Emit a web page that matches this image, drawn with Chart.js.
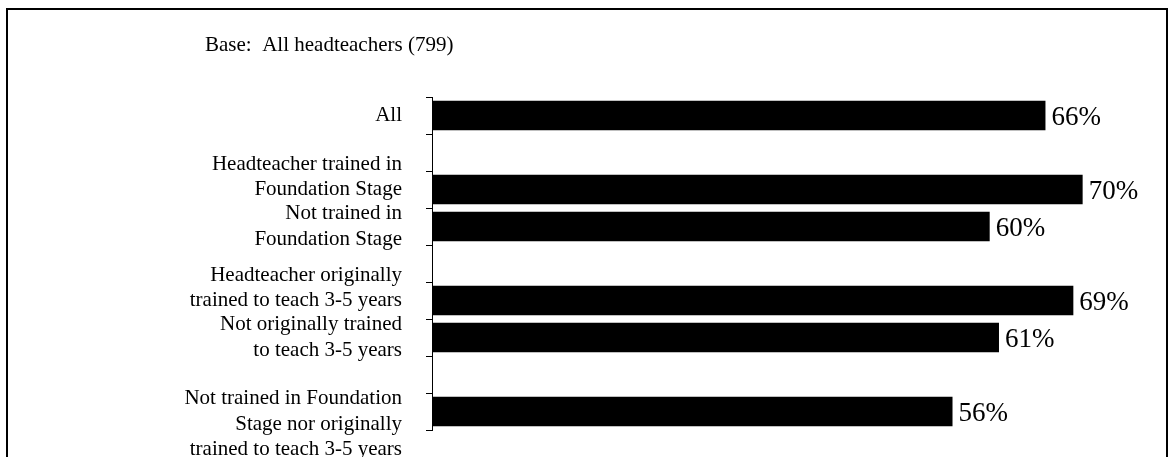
<!DOCTYPE html>
<html>
<head>
<meta charset="utf-8">
<script src="https://cdn.jsdelivr.net/npm/chart.js@4"></script>
<style>
  body { margin: 0; background: #fff; overflow: hidden; }
  #frame { position: absolute; left: 6px; top: 8px; width: 1158px; height: 480px; border: 2px solid #000; }
  #wrap { position: absolute; left: 0; top: 0; width: 1173px; height: 457px; }
</style>
</head>
<body>
<div id="frame"></div>
<div id="wrap"><canvas id="chart" width="1173" height="457"></canvas></div>
<script>
// categories (empty strings are the spacer rows between groups;
// a blank line before/after a label nudges it down/up like the original)
const categories = [
    ['All'],
    [''],
    ['Headteacher trained in', 'Foundation Stage', ''],
    ['Not trained in', 'Foundation Stage'],
    [''],
    ['Headteacher originally', 'trained to teach 3-5 years', ''],
    ['Not originally trained', 'to teach 3-5 years'],
    [''],
    ['', 'Not trained in Foundation', 'Stage nor originally', 'trained to teach 3-5 years']
];
const values = [66, null, 70, 60, null, 69, 61, null, 56];
const titleText = 'Base:  All headteachers (799)';

const serif = "'Liberation Serif', 'Times New Roman', serif";

// draws the title and the value labels at the end of each bar
const labelPlugin = {
    id: 'labelPlugin',
    afterDraw(chart) {
        const ctx = chart.ctx;
        ctx.save();
        ctx.fillStyle = '#000';
        ctx.font = '21px ' + serif;
        ctx.textBaseline = 'middle';
        ctx.textAlign = 'left';
        ctx.fillText(titleText, 205, 45);

        ctx.font = '27px ' + serif;
        const meta = chart.getDatasetMeta(0);
        meta.data.forEach((bar, i) => {
            if (values[i] === null) return;
            ctx.fillText(values[i] + '%', bar.x + 6, bar.y + 2);
        });
        ctx.restore();
    }
};

const ctx = document.getElementById('chart').getContext('2d');
const chart = new Chart(ctx, {
    type: 'bar',
    data: {
        labels: categories,
        datasets: [{
            data: values,
            backgroundColor: '#000',
            borderWidth: 0,
            barPercentage: 0.8,
            categoryPercentage: 1.0
        }]
    },
    options: {
        indexAxis: 'y',
        responsive: false,
        animation: false,
        layout: { padding: { top: 97, bottom: 27, left: 0, right: 16 } },
        plugins: { legend: { display: false }, tooltip: { enabled: false } },
        scales: {
            x: { display: false, min: 0, max: 78 },
            y: {
                afterFit(scale) {
                    scale.width = 432;
                    scale.paddingTop = 0;
                    scale.paddingBottom = 0;
                },
                grid: {
                    offset: true,
                    drawOnChartArea: false,
                    tickLength: 6,
                    color: '#000'
                },
                border: { color: '#000', width: 1 },
                ticks: {
                    autoSkip: false,
                    color: '#000',
                    padding: 24,
                    font: { family: serif, size: 21, lineHeight: 1.2 }
                }
            }
        }
    },
    plugins: [labelPlugin]
});
</script>
</body>
</html>
